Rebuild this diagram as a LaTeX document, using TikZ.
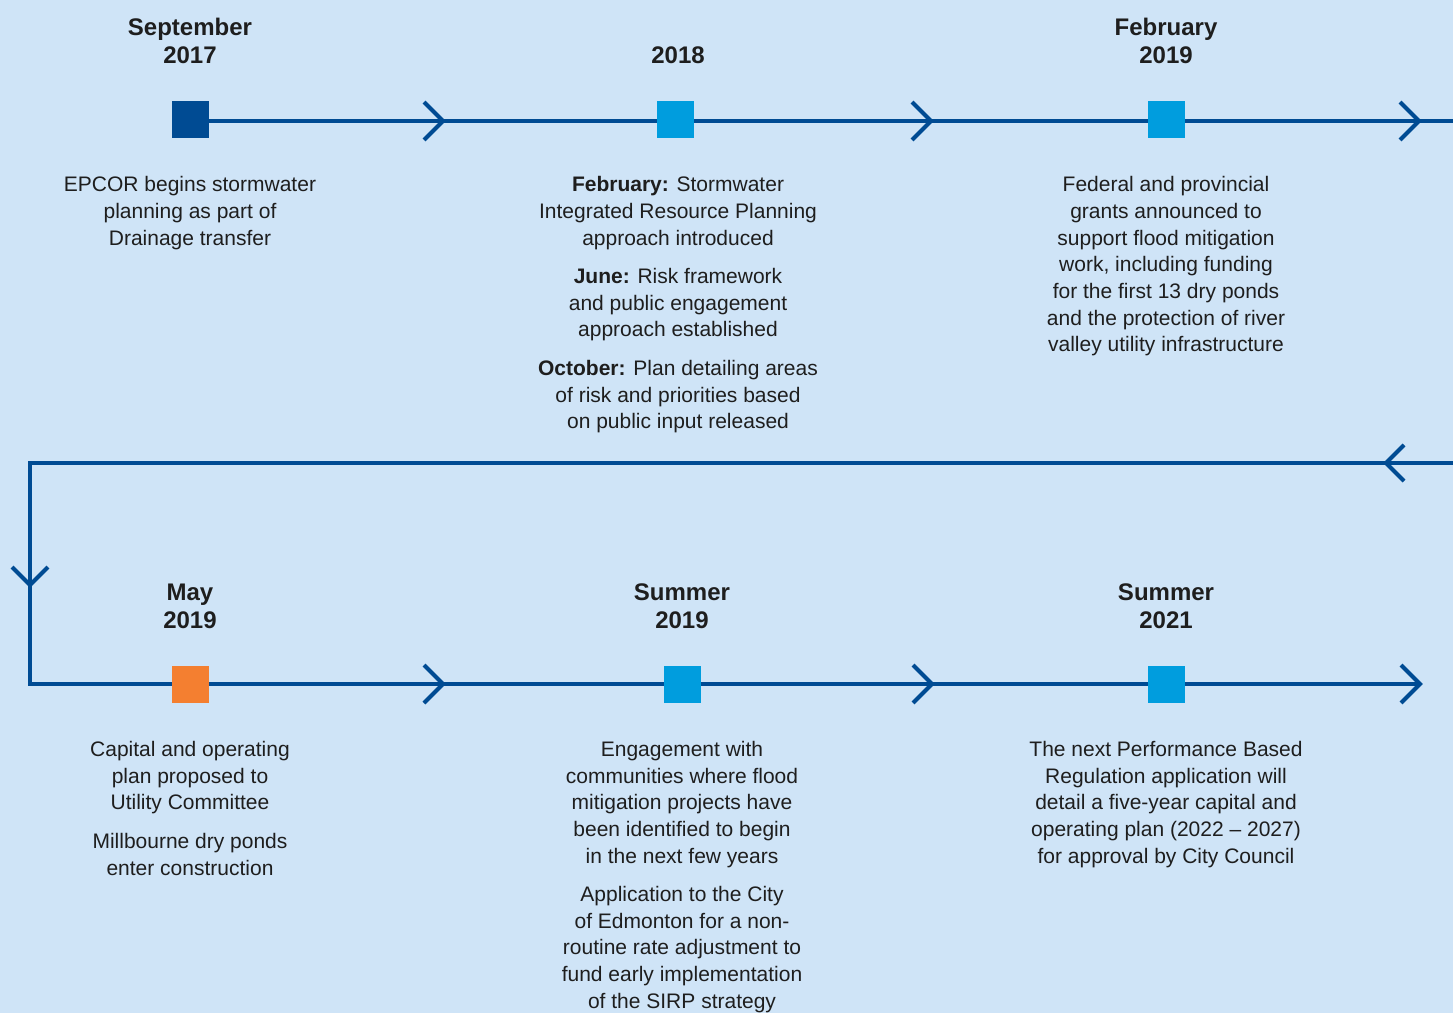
\documentclass[tikz,border=0pt]{standalone}
\usepackage{fontspec}
\setmainfont{Liberation Sans}
\definecolor{bgblue}{HTML}{CFE4F7}
\definecolor{lineblue}{HTML}{004B93}
\definecolor{sqblue}{HTML}{009DDE}
\definecolor{sqorange}{HTML}{F47F30}
\definecolor{txt}{HTML}{1E1E1E}
\begin{document}
\begin{tikzpicture}[x=0.75pt,y=-0.75pt,
  tl/.style={line width=3pt,draw=lineblue},
  chev/.style={line width=3pt,draw=lineblue,line join=miter},
  sq/.style={minimum size=27.75pt,inner sep=0pt,outer sep=0pt},
  title/.style={anchor=base,align=center,inner sep=0pt,text=txt,
    font=\fontsize{18pt}{21.2pt}\selectfont\bfseries},
  body/.style={anchor=base,align=center,inner sep=0pt,text=txt,
    font=\fontsize{15.75pt}{20pt}\selectfont}]
\fill[bgblue] (0,0) rectangle (1453,1013);
\useasboundingbox (0,0) rectangle (1453,1013);
% squares
\node[sq,fill=lineblue] (s1) at (190.5,119.5) {};
\node[sq,fill=sqblue] (s2) at (675.5,119.5) {};
\node[sq,fill=sqblue] (s3) at (1166.5,119.5) {};
\node[sq,fill=sqorange] (s4) at (190.5,684.5) {};
\node[sq,fill=sqblue] (s5) at (682.5,684.5) {};
\node[sq,fill=sqblue] (s6) at (1166.5,684.5) {};
% coordinates
\coordinate (e1) at (1453,121);
\coordinate (e2) at (1453,463);
\coordinate (k1) at (30,463);
\coordinate (k2) at (30,684);
\coordinate (c1) at (443,121);
\coordinate (c2) at (931,121);
\coordinate (c3) at (1419,121);
\coordinate (c4) at (1386,463);
\coordinate (c5) at (30,585);
\coordinate (c6) at (443,684);
\coordinate (c7) at (932,684);
\coordinate (c8) at (1420,684);
% connectors
\draw[tl] (s1.east |- e1) -- (s2.west |- e1);
\draw[tl] (s2.east |- e1) -- (s3.west |- e1);
\draw[tl] (s3.east |- e1) -- (e1);
\draw[tl,line join=miter] (e2) -- (k1) -- (k2) -- (s4.west |- k2);
\draw[tl] (s4.east |- k2) -- (s5.west |- k2);
\draw[tl] (s5.east |- k2) -- (s6.west |- k2);
\draw[tl] (s6.east |- k2) -- (c8);
% chevrons
\foreach \c in {c1,c2,c3,c6,c7,c8}{
  \draw[chev] (\c) ++(-19,-19) -- (\c) -- ++(-19,19);
}
\draw[chev] (c4) ++(18,-18) -- (c4) -- ++(18,18);
\draw[chev] (c5) ++(-18,-18) -- (c5) -- ++(18,-18);
% titles (anchor = baseline of last line)
\node[title] (t1) at (190,63.3) {September\\2017};
\node[title] (t2) at (678,63.3) {2018};
\node[title] (t3) at (1166,63.3) {February\\2019};
\node[title] (t4) at (190,628.3) {May\\2019};
\node[title] (t5) at (682,628.3) {Summer\\2019};
\node[title] (t6) at (1166,628.3) {Summer\\2021};
% texts (anchor = baseline of last line)
\node[body] (b1) at (190,245) {EPCOR begins stormwater\\planning as part of\\Drainage transfer};
\node[body] (b2a) at (678,245) {\textbf{February:} Stormwater\\Integrated Resource Planning\\approach introduced};
\node[body] (b2b) at (678,336.8) {\textbf{June:} Risk framework\\and public engagement\\approach established};
\node[body] (b2c) at (678,428.8) {\textbf{October:} Plan detailing areas\\of risk and priorities based\\on public input released};
\node[body] (b3) at (1166,351.7) {Federal and provincial\\grants announced to\\support flood mitigation\\work, including funding\\for the first 13 dry ponds\\and the protection of river\\valley utility infrastructure};
\node[body] (b4a) at (190,809.8) {Capital and operating\\plan proposed to\\Utility Committee};
\node[body] (b4b) at (190,875.2) {Millbourne dry ponds\\enter construction};
\node[body] (b5a) at (682,863.2) {Engagement with\\communities where flood\\mitigation projects have\\been identified to begin\\in the next few years};
\node[body] (b5b) at (682,1008.2) {Application to the City\\of Edmonton for a non-\\routine rate adjustment to\\fund early implementation\\of the SIRP strategy};
\node[body] (b6) at (1166,863.2) {The next Performance Based\\Regulation application will\\detail a five-year capital and\\operating plan (2022 -- 2027)\\for approval by City Council};
\end{tikzpicture}
\end{document}
